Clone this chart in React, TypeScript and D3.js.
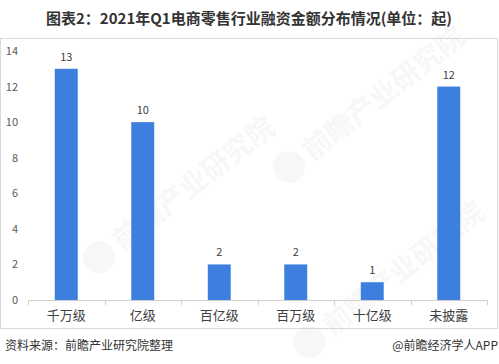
import React from "react";
import * as d3 from "d3";

const categories = ["千万级", "亿级", "百亿级", "百万级", "十亿级", "未披露"];
const values = [13, 10, 2, 2, 1, 12];
const yTicks = [0, 2, 4, 6, 8, 10, 12, 14];
const title = "图表2：2021年Q1电商零售行业融资金额分布情况(单位：起)";
const sourceText = "资料来源：前瞻产业研究院整理";
const brandText = "@前瞻经济学人APP";
const watermarks = [
  { x: 140, y: 225 },
  { x: 330, y: 135 },
  { x: 350, y: 310 },
];

const W = 499;
const H = 364;
const font = "'Microsoft YaHei', 'Noto Sans CJK SC', sans-serif";

export default function App() {
  const x = d3.scaleBand<string>().domain(categories).range([28, 487]).paddingInner(0.7).paddingOuter(0.35);
  const xb = d3.scaleBand<string>().domain(categories).range([28, 487]);
  const y = d3.scaleLinear().domain([0, 14]).range([300, 51]);
  return (
    <svg width={W} height={H} style={{ position: "absolute", left: 0, top: 0, background: "#fff" }}>
      <rect x={0} y={0} width={W} height={H} fill="#fff" />
      <text x={249} y={24} textAnchor="middle" fontFamily={font} fontWeight="bold" fontSize={15} fill="#333">
        {title}
      </text>
      <rect x={0.5} y={38.5} width={497} height={290} fill="#fff" stroke="#d9d9d9" />
      {watermarks.map((w, i) => (
        <g key={i} transform={`translate(${w.x},${w.y}) rotate(-38)`} opacity={0.06}>
          <circle cx={-52} cy={0} r={16} fill="#8a8a8a" />
          <text x={-30} y={10} fontFamily={font} fontSize={28} fontWeight="bold" fill="#8a8a8a">
            前瞻产业研究院
          </text>
        </g>
      ))}
      {yTicks.map((t) => (
        <text key={t} x={18} y={y(t) + 4} textAnchor="end" fontFamily={font} fontSize={11} fill="#595959">
          {t}
        </text>
      ))}
      {categories.map((c, i) => (
        <g key={c}>
          <rect x={x(c)} y={y(values[i])} width={x.bandwidth()} height={y(0) - y(values[i])} fill="#3c7fde" />
          <text x={x(c)! + x.bandwidth() / 2} y={y(values[i]) - 8} textAnchor="middle" fontFamily={font} fontSize={11} fill="#404040">
            {values[i]}
          </text>
          <text x={xb(c)! + xb.bandwidth() / 2} y={320} textAnchor="middle" fontFamily={font} fontSize={13} fill="#404040">
            {c}
          </text>
        </g>
      ))}
      <line x1={28} x2={487} y1={300.5} y2={300.5} stroke="#d0d0d0" />
      {categories.concat([""]).map((_, i) => {
        const px = Math.round(28 + i * xb.step()) + 0.5;
        return <line key={i} x1={px} x2={px} y1={300} y2={305} stroke="#d0d0d0" />;
      })}
      <text x={5} y={350} fontFamily={font} fontSize={12} fill="#333">
        {sourceText}
      </text>
      <text x={498} y={350} textAnchor="end" fontFamily={font} fontSize={12} fill="#333">
        {brandText}
      </text>
    </svg>
  );
}
